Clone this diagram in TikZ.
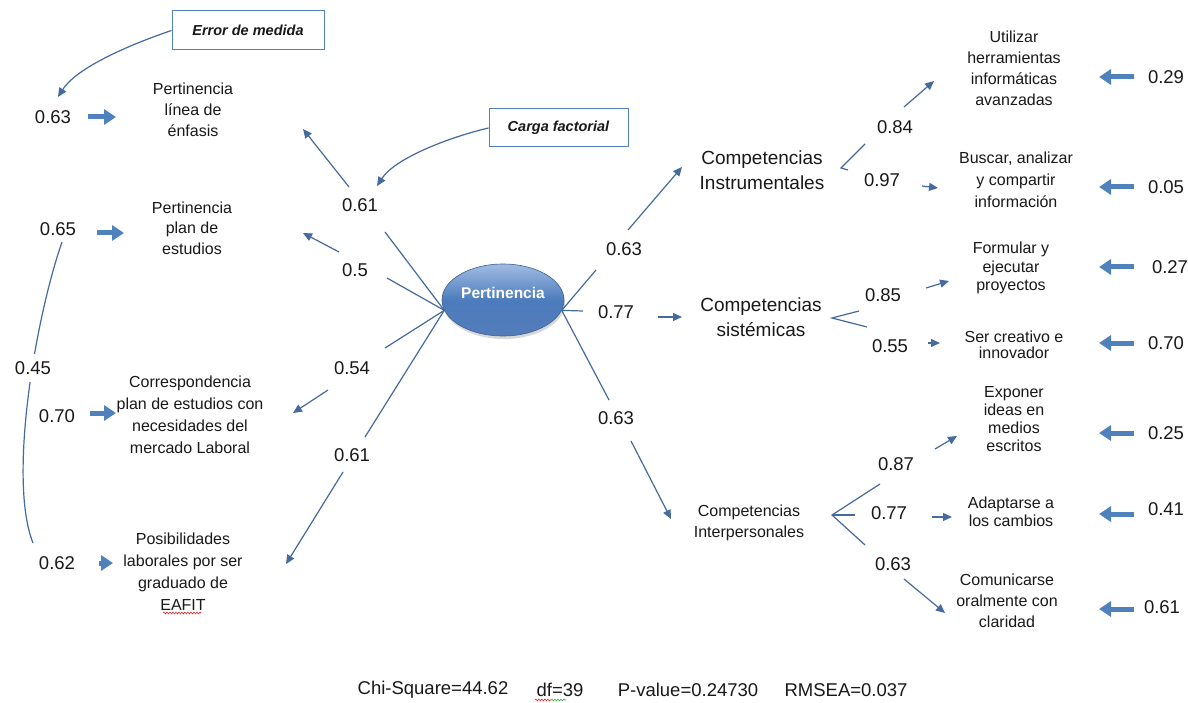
\documentclass[tikz,border=0pt]{standalone}
\usepackage{fontspec}
\setmainfont{Liberation Sans}
\usetikzlibrary{arrows.meta,shapes.geometric,shadows,decorations.pathmorphing}
\definecolor{cconn}{RGB}{68,106,158}
\definecolor{cthick}{RGB}{79,129,189}
\definecolor{tc}{RGB}{25,25,25}
\definecolor{boxc}{RGB}{79,129,189}
\definecolor{ellT}{RGB}{160,188,226}
\definecolor{ellM}{RGB}{76,124,188}
\definecolor{ellB}{RGB}{84,124,186}
\definecolor{ellD}{RGB}{60,96,145}
\definecolor{squigR}{RGB}{220,40,40}
\definecolor{squigG}{RGB}{60,170,60}
\begin{document}
\begin{tikzpicture}[x=1pt,y=-1pt,
  conn/.style={draw=cconn, line width=1.2pt},
  arr/.style={conn, -{Triangle[length=9pt,width=8pt]}},
  err/.style={draw=cthick, line width=5pt, -{Triangle[length=12pt,width=15pt]}},
  num/.style={font=\fontsize{18.5}{20}\selectfont, text=tc, inner sep=1pt},
  txt/.style={align=center, text=tc, inner sep=0pt, font=\fontsize{16}{#1}\selectfont},
  txt/.default=21,
  comp/.style={align=center, text=tc, inner sep=0pt, font=\fontsize{19}{25}\selectfont},
  tbox/.style={draw=boxc, line width=1pt, fill=white, font=\bfseries\itshape\fontsize{14.5}{17}\selectfont, text=tc},
  squig/.style={line width=0.6pt, decorate, decoration={snake, amplitude=0.9pt, segment length=3pt}}
]
\useasboundingbox[fill=white] (0,0) rectangle (1188,703);

% ---------- central latent ----------
\node[ellipse, minimum width=122pt, minimum height=72pt, draw=ellD, line width=0.6pt,
      top color=ellT, bottom color=ellB, middle color=ellM,
      drop shadow={opacity=0.3, shadow xshift=1pt, shadow yshift=-3pt}] (P) at (503,300) {};
\node[font=\bfseries\fontsize{15.5}{18}\selectfont, text=white] (Ptxt) at (503,293) {Pertinencia};

% ---------- left indicators ----------
\node[txt] (PLE) at (193,110) {Pertinencia\\línea de\\énfasis};
\node[txt=20.5] (PPE) at (192,228) {Pertinencia\\plan de\\estudios};
\node[txt=22] (CPE) at (190,415) {Correspondencia\\plan de estudios con\\necesidades del\\mercado Laboral};
\node[txt=22] (PLG) at (183,572) {Posibilidades\\laborales por ser\\graduado de\\EAFIT};

% ---------- right latent ----------
\node[comp] (CI) at (762,170.5) {Competencias\\Instrumentales};
\node[comp] (CS) at (761,317.5) {Competencias\\sistémicas};
\node[txt] (CIP) at (749,523) {Competencias\\Interpersonales};

% ---------- right indicators ----------
\node[txt] (U) at (1014,68.5) {Utilizar\\herramientas\\informáticas\\avanzadas};
\node[txt=22] (B) at (1016,180) {Buscar, analizar\\y compartir\\información};
\node[txt=18.5] (F) at (1011,268) {Formular y\\ejecutar\\proyectos};
\node[txt=16] (S) at (1014,345) {Ser creativo e\\innovador};
\node[txt=18] (E) at (1014,419) {Exponer\\ideas en\\medios\\escritos};
\node[txt=18] (A) at (1011,512) {Adaptarse a\\los cambios};
\node[txt] (C) at (1007,601) {Comunicarse\\oralmente con\\claridad};

% ---------- callout boxes ----------
\node[tbox, minimum width=152pt, minimum height=39pt] (BE) at (248,30.5) {Error de medida};
\node[tbox, minimum width=139pt, minimum height=38pt] (BC) at (558.5,128) {Carga factorial};
\coordinate (tE) at (58,97);
\coordinate (tC) at (377,186);
\draw[arr] (BE.west) .. controls (120,48) and (75,70) .. (tE);
\draw[arr] (BC.west) .. controls (450,137) and (395,158) .. (tC);

% ---------- loadings: Pertinencia -> left ----------
\node[num] (l1) at (360,205) {0.61};
\node[num] (l2) at (355,270) {0.5};
\node[num] (l3) at (352,368) {0.54};
\node[num] (l4) at (352,455) {0.61};
\coordinate (a1) at (385,232); \coordinate (a1b) at (349,187); \coordinate (tPLE) at (303,129);
\coordinate (a2) at (387,278); \coordinate (a2b) at (339,252); \coordinate (tPPE) at (303,233);
\coordinate (a3) at (385,348); \coordinate (a3b) at (328,390); \coordinate (tCPE) at (293,413);
\coordinate (a4) at (365,437); \coordinate (a4b) at (343,472); \coordinate (tPLG) at (286,564);
\draw[conn] (P.190) -- (a1); \draw[arr] (a1b) -- (tPLE);
\draw[conn] (P.190) -- (a2); \draw[arr] (a2b) -- (tPPE);
\draw[conn] (P.190) -- (a3); \draw[arr] (a3b) -- (tCPE);
\draw[conn] (P.190) -- (a4); \draw[arr] (a4b) -- (tPLG);

% ---------- loadings: Pertinencia -> right ----------
\node[num] (r1) at (624,249) {0.63};
\node[num] (r2) at (616,312) {0.77};
\node[num] (r3) at (616,418) {0.63};
\coordinate (b1) at (596,270); \coordinate (b1b) at (628,230); \coordinate (tCI) at (682,167);
\coordinate (b2) at (583,311); \coordinate (b2b) at (658,317); \coordinate (tCS) at (682,317);
\coordinate (b3) at (609,400); \coordinate (b3b) at (631,441); \coordinate (tCIP) at (671,519);
\draw[conn] (P.-10) -- (b1); \draw[arr] (b1b) -- (tCI);
\draw[conn] (P.-10) -- (b2); \draw[arr] (b2b) -- (tCS);
\draw[conn] (P.-10) -- (b3); \draw[arr] (b3b) -- (tCIP);

% ---------- Instrumentales branches ----------
\coordinate (bI) at (841,168);
\coordinate (bI1) at (865,144); \coordinate (bI2) at (848,170);
\node[num] (n084) at (895,127) {0.84};
\node[num] (n097) at (882,180) {0.97};
\coordinate (uS) at (904,107); \coordinate (tU) at (934,81);
\coordinate (bS0) at (922,186); \coordinate (tB) at (938,188);
\draw[conn] (bI1) -- (bI) -- (bI2);
\draw[arr] (uS) -- (tU);
\draw[arr] (bS0) -- (tB);

% ---------- sistemicas branches ----------
\coordinate (bS) at (832,318);
\coordinate (bS1) at (859,311); \coordinate (bS2) at (867,327);
\node[num] (n085) at (883,295) {0.85};
\node[num] (n055) at (890,346) {0.55};
\coordinate (fS) at (926,288); \coordinate (tF) at (949,281);
\coordinate (sS) at (928,343); \coordinate (tS) at (940,343);
\draw[conn] (bS1) -- (bS) -- (bS2);
\draw[arr] (fS) -- (tF);
\draw[arr] (sS) -- (tS);

% ---------- interpersonales branches ----------
\coordinate (bP) at (832,515);
\coordinate (bP1) at (880,484); \coordinate (bP2) at (855,515); \coordinate (bP3) at (865,545);
\node[num] (n087) at (896,464) {0.87};
\node[num] (n077) at (889,513) {0.77};
\node[num] (n063) at (893,564) {0.63};
\coordinate (eS) at (935,449); \coordinate (tEx) at (957,436);
\coordinate (aS) at (932,517); \coordinate (tA) at (952,517);
\coordinate (cS) at (904,579); \coordinate (tCo) at (945,613);
\draw[conn] (bP1) -- (bP) -- (bP3);
\draw[conn] (bP) -- (bP2);
\draw[arr] (eS) -- (tEx);
\draw[arr] (aS) -- (tA);
\draw[arr] (cS) -- (tCo);

% ---------- measurement errors left ----------
\node[num] (e1) at (53,117) {0.63};
\node[num] (e2) at (58,229) {0.65};
\node[num] (e3) at (57,416) {0.70};
\node[num] (e4) at (57,563) {0.62};
\coordinate (e1s) at (88,117); \coordinate (e1t) at (116,117);
\coordinate (e2s) at (97,233); \coordinate (e2t) at (124,233);
\coordinate (e3s) at (90,413); \coordinate (e3t) at (116,413);
\coordinate (e4s) at (99,563); \coordinate (e4t) at (113,563);
\draw[err] (e1s) -- (e1t);
\draw[err] (e2s) -- (e2t);
\draw[err] (e3s) -- (e3t);
\draw[err] (e4s) -- (e4t);

% correlated errors
\coordinate (c45a) at (62,242);
\coordinate (c45b) at (33,543);
\draw[conn] (c45a) .. controls (35,320) and (8,480) .. (c45b);
\node[num, fill=white, inner xsep=2pt, inner ysep=7pt] (n045) at (33,368) {0.45};

% ---------- measurement errors right ----------
\node[num] (f1) at (1166,77) {0.29};
\node[num] (f2) at (1166,187) {0.05};
\node[num] (f3) at (1170,267) {0.27};
\node[num] (f4) at (1166,343) {0.70};
\node[num] (f5) at (1166,433) {0.25};
\node[num] (f6) at (1166,509) {0.41};
\node[num] (f7) at (1162,607) {0.61};
\foreach \i/\yy in {1/77,2/187,3/267,4/343,5/433,6/514,7/609}{
  \coordinate (g\i s) at (1134,\yy);
  \coordinate (g\i t) at (1099,\yy);
  \draw[err] (g\i s) -- (g\i t);
}

% ---------- fit statistics ----------
\node[num, font=\fontsize{18.5}{20}\selectfont] (chi) at (433,690) {Chi-Square=44.62};
\node[num, font=\fontsize{18.5}{20}\selectfont] (df) at (560,690) {df=39};
\node[num, font=\fontsize{18.5}{20}\selectfont] (pv) at (688,690) {P-value=0.24730};
\node[num, font=\fontsize{18.5}{20}\selectfont] (rm) at (846,690) {RMSEA=0.037};

% spell-check squiggles
\coordinate (q1a) at (163,613); \coordinate (q1b) at (201,613);
\coordinate (q2a) at (535,700); \coordinate (q2b) at (551,700); \coordinate (q2c) at (566,700);
\draw[squig, draw=squigR] (q1a) -- (q1b);
\draw[squig, draw=squigR] (q2a) -- (q2b);
\draw[squig, draw=squigG] (q2b) -- (q2c);
\end{tikzpicture}
\end{document}
